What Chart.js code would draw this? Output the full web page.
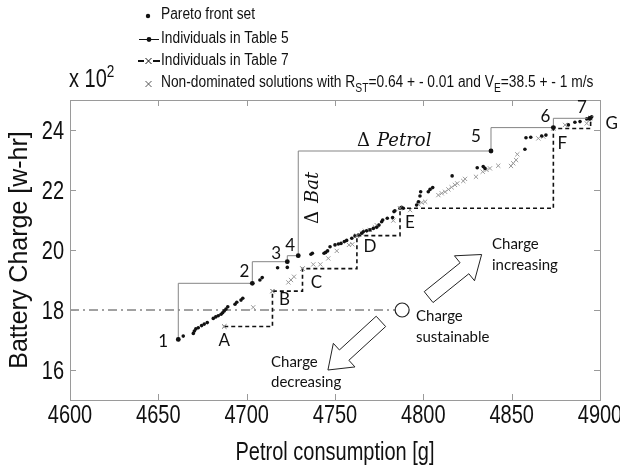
<!DOCTYPE html>
<html>
<head>
<meta charset="utf-8">
<script src="https://cdn.jsdelivr.net/npm/chart.js@4/dist/chart.umd.min.js"></script>
<style>
  html, body { margin: 0; padding: 0; background: #fff; }
  #wrap { position: relative; width: 620px; height: 469px; }
</style>
</head>
<body>
<div id="wrap"><canvas id="chart" width="620" height="469"></canvas></div>
<script>
// Pareto front set (petrol g, battery charge w-hr)
var paretoPetrol = [4661.3, 4664.1, 4669.8, 4670.4, 4671.2, 4672.6, 4674.5, 4676.0, 4677.7, 4681.1, 4682.5, 4683.9,
    4685.5, 4686.4, 4687.3, 4688.3, 4689.3, 4693.4, 4694.4, 4696.8, 4697.8, 4703.2, 4707.5, 4708.8, 4717.5, 4723.0,
    4723.0, 4729.2, 4736.4, 4737.2, 4743.8, 4744.7, 4745.8, 4747.2, 4750.0, 4751.9, 4753.4, 4755.3, 4756.6, 4759.5,
    4761.3, 4763.2, 4765.1, 4766.0, 4767.9, 4769.8, 4771.7, 4773.6, 4774.9, 4776.4, 4777.0, 4779.6, 4782.6, 4783.4,
    4783.9, 4786.8, 4787.7, 4788.7, 4796.2, 4797.2, 4798.1, 4798.5, 4802.8, 4803.8, 4805.3, 4816.3, 4830.5, 4833.9,
    4834.9, 4838.3, 4857.5, 4858.1, 4860.8, 4867.0, 4869.4, 4873.6, 4882.1, 4885.8, 4888.7, 4892.5, 4894.3, 4895.3];
var paretoCharge = [1702, 1713, 1722, 1730, 1737, 1741, 1748, 1753, 1758, 1772, 1777, 1781,
    1786, 1791, 1797, 1803, 1811, 1819, 1826, 1833, 1839, 1889, 1900, 1908, 1941, 1942,
    1961, 1981, 1986, 1989, 1989, 1992, 1997, 2011, 2017, 2020, 2022, 2028, 2032, 2039,
    2047, 2050, 2056, 2061, 2064, 2067, 2072, 2076, 2083, 2094, 2100, 2106, 2108, 2128,
    2131, 2139, 2142, 2139, 2150, 2161, 2180, 2194, 2194, 2202, 2208, 2247, 2274, 2278,
    2272, 2330, 2336, 2374, 2376, 2380, 2383, 2408, 2417, 2426, 2428, 2437, 2441, 2444];

// Non-dominated solutions with R_ST=0.64 +- 0.01 and V_E=38.5 +- 1 m/s
var ndPetrol = [4687.3, 4703.7, 4714.6, 4723.6, 4725.1, 4726.8, 4731.6, 4737.7, 4741.7, 4746.2, 4751.0, 4757.9,
    4759.8, 4762.3, 4765.1, 4767.0, 4769.8, 4772.6, 4773.6, 4783.0, 4792.5, 4797.2, 4799.1, 4801.0, 4808.5,
    4810.4, 4812.3, 4814.2, 4816.0, 4817.9, 4819.2, 4822.6, 4823.6, 4829.8, 4833.6, 4835.8, 4837.7, 4842.4,
    4849.6, 4850.9, 4852.5, 4853.2, 4865.1, 4867.9, 4880.2, 4892.5, 4894.0];
var ndCharge = [1745, 1809, 1863, 1892, 1900, 1911, 1938, 1952, 1952, 1972, 1997, 2017,
    2019, 2047, 2056, 2064, 2067, 2076, 2083, 2098, 2133, 2152, 2158, 2161, 2183,
    2189, 2194, 2202, 2209, 2217, 2222, 2230, 2237, 2244, 2261, 2267, 2272, 2281,
    2280, 2289, 2300, 2319, 2372, 2378, 2417, 2422, 2433];

// Individuals in Table 5 (1..7) and Table 7 (A..G)
var table5Labels = ["1", "2", "3", "4", "5", "6", "7"];
var table5Petrol = [4661.3, 4703.2, 4723.0, 4729.2, 4838.3, 4873.6, 4894.3];
var table5Charge = [1702, 1889, 1961, 1981, 2330, 2408, 2439];
var table7Labels = ["A", "B", "C", "D", "E", "F", "G"];
var table7Petrol = [4687.3, 4714.6, 4731.6, 4762.4, 4786.8, 4873.6, 4894.7];
var table7Charge = [1745, 1863, 1938, 2048, 2139, 2405, 2440];

// charge sustaining reference
var sustainPetrol = [4600, 4788];
var sustainCharge = [1800, 1800];

var xTicks = [4600, 4650, 4700, 4750, 4800, 4850, 4900];
var yTicks = [1600, 1800, 2000, 2200, 2400];

var SANS = '"Liberation Sans", Arial, sans-serif';
var NOTE = 'Lato, "Open Sans", sans-serif';
var K = 0.8; // horizontal squeeze, gives the Arial Narrow look of the original

function pts(xs, ys) {
    return xs.map(function (x, i) { return { x: x, y: ys[i] }; });
}

// label offsets (px) from their point
var t5Off = [[-15, 2], [-8, -12], [-11, -8], [-8, -10], [-15, -14], [-8, -11], [-8, -11]];
var t7Off = [[0, 14], [12, 8], [14, 14], [13, 11], [10, 14], [9, 15], [21, 6]];

function blockArrow(ctx, x0, y0, x1, y1, shaftW, headW, headL) {
    var dx = x1 - x0, dy = y1 - y0, len = Math.sqrt(dx * dx + dy * dy);
    var ux = dx / len, uy = dy / len, nx = -uy, ny = ux;
    var bx = x1 - ux * headL, by = y1 - uy * headL;
    ctx.beginPath();
    ctx.moveTo(x0 + nx * shaftW / 2, y0 + ny * shaftW / 2);
    ctx.lineTo(bx + nx * shaftW / 2, by + ny * shaftW / 2);
    ctx.lineTo(bx + nx * headW / 2, by + ny * headW / 2);
    ctx.lineTo(x1, y1);
    ctx.lineTo(bx - nx * headW / 2, by - ny * headW / 2);
    ctx.lineTo(bx - nx * shaftW / 2, by - ny * shaftW / 2);
    ctx.lineTo(x0 - nx * shaftW / 2, y0 - ny * shaftW / 2);
    ctx.closePath();
    ctx.fillStyle = "#fff";
    ctx.fill();
    ctx.strokeStyle = "#222";
    ctx.lineWidth = 1;
    ctx.stroke();
}

function drawX(ctx, x, y, r, color) {
    ctx.save();
    ctx.strokeStyle = color;
    ctx.lineWidth = 1;
    ctx.beginPath();
    ctx.moveTo(x - r, y - r); ctx.lineTo(x + r, y + r);
    ctx.moveTo(x - r, y + r); ctx.lineTo(x + r, y - r);
    ctx.stroke();
    ctx.restore();
}

// draw a run of [text, sizePx, dy] pieces, squeezed horizontally by k
function narrowText(ctx, pieces, x, y, k, align) {
    ctx.save();
    var w = 0;
    pieces.forEach(function (p) { ctx.font = p[1] + "px " + SANS; w += ctx.measureText(p[0]).width; });
    var sx = x;
    if (align === "center") sx = x - w * k / 2;
    if (align === "right") sx = x - w * k;
    ctx.translate(sx, y);
    ctx.scale(k, 1);
    ctx.textAlign = "left";
    var cx = 0;
    pieces.forEach(function (p) {
        ctx.font = p[1] + "px " + SANS;
        ctx.fillText(p[0], cx, p[2] || 0);
        cx += ctx.measureText(p[0]).width;
    });
    ctx.restore();
}

var decor = {
    id: "decor",
    beforeDatasetsDraw: function (chart) {
        var ctx = chart.ctx, xs = chart.scales.x, ys = chart.scales.y;
        // block arrows
        blockArrow(ctx, xs.getPixelForValue(4803), ys.getPixelForValue(1843),
            xs.getPixelForValue(4833), ys.getPixelForValue(1985), 14, 32, 22);
        blockArrow(ctx, xs.getPixelForValue(4776), ys.getPixelForValue(1762),
            xs.getPixelForValue(4746), ys.getPixelForValue(1600), 14, 32, 22);
    },
    afterDatasetsDraw: function (chart) {
        var ctx = chart.ctx, a = chart.chartArea, xs = chart.scales.x, ys = chart.scales.y;
        ctx.save();
        // box with inward ticks
        ctx.strokeStyle = "#9a9a9a";
        ctx.lineWidth = 1;
        ctx.strokeRect(a.left + 0.5, a.top + 0.5, a.right - a.left, a.bottom - a.top);
        ctx.beginPath();
        xTicks.forEach(function (v) {
            var px = Math.round(xs.getPixelForValue(v)) + 0.5;
            ctx.moveTo(px, a.bottom); ctx.lineTo(px, a.bottom - 6);
            ctx.moveTo(px, a.top); ctx.lineTo(px, a.top + 6);
        });
        yTicks.forEach(function (v) {
            var py = Math.round(ys.getPixelForValue(v)) + 0.5;
            ctx.moveTo(a.left, py); ctx.lineTo(a.left + 6, py);
            ctx.moveTo(a.right, py); ctx.lineTo(a.right - 6, py);
        });
        ctx.stroke();

        // point labels
        ctx.fillStyle = "#111";
        ctx.font = "17px " + NOTE;
        ctx.textAlign = "center";
        ctx.textBaseline = "middle";
        table5Labels.forEach(function (t, i) {
            ctx.fillText(t, xs.getPixelForValue(table5Petrol[i]) + t5Off[i][0], ys.getPixelForValue(table5Charge[i]) + t5Off[i][1]);
        });
        table7Labels.forEach(function (t, i) {
            ctx.fillText(t, xs.getPixelForValue(table7Petrol[i]) + t7Off[i][0], ys.getPixelForValue(table7Charge[i]) + t7Off[i][1]);
        });

        // notes
        ctx.font = "15px " + NOTE;
        ctx.textAlign = "left";
        ctx.fillText("Charge", 492, 244);
        ctx.fillText("increasing", 492, 265);
        ctx.fillText("Charge", 416, 316);
        ctx.fillText("sustainable", 416, 337);
        ctx.fillText("Charge", 271, 362);
        ctx.fillText("decreasing", 271, 382);

        // delta labels
        ctx.textAlign = "left";
        ctx.font = '18px "DejaVu Serif", serif';
        ctx.fillText("\u0394", 357, 141);
        ctx.font = 'italic 18px "DejaVu Serif", serif';
        ctx.fillText("Petrol", 377, 141);
        ctx.save();
        ctx.translate(313, 224);
        ctx.rotate(-Math.PI / 2);
        ctx.font = '18px "DejaVu Serif", serif';
        ctx.fillText("\u0394", 0, 0);
        ctx.font = 'italic 18px "DejaVu Serif", serif';
        ctx.fillText("Bat", 21, 0);
        ctx.restore();
        ctx.restore();
    },
    afterDraw: function (chart) {
        var ctx = chart.ctx, a = chart.chartArea, xs = chart.scales.x, ys = chart.scales.y;
        ctx.save();
        ctx.fillStyle = "#111";
        ctx.textBaseline = "alphabetic";

        // tick labels (narrow) placed by the scales
        xTicks.forEach(function (v) {
            narrowText(ctx, [[String(v), 25]], xs.getPixelForValue(v), a.bottom + 23, K, "center");
        });
        yTicks.forEach(function (v) {
            narrowText(ctx, [[String(v / 100), 25]], a.left - 6, ys.getPixelForValue(v) + 9, K, "right");
        });
        narrowText(ctx, [["Petrol consumption [g]", 25]], (a.left + a.right) / 2, 460, K, "center");

        // x 10^2
        narrowText(ctx, [["x 10", 25, 0], ["2", 17, -10]], 69, 87, K);

        // legend
        var lx = 161, k2 = 0.86;
        ctx.textBaseline = "middle";
        ctx.beginPath(); ctx.arc(148, 16, 2.2, 0, Math.PI * 2); ctx.fill();
        narrowText(ctx, [["Pareto front set", 16]], lx, 15, k2);

        ctx.strokeStyle = "#111"; ctx.lineWidth = 1;
        ctx.beginPath(); ctx.moveTo(139, 39.5); ctx.lineTo(159, 39.5); ctx.stroke();
        ctx.beginPath(); ctx.arc(149, 39.5, 2.4, 0, Math.PI * 2); ctx.fill();
        narrowText(ctx, [["Individuals in Table 5", 16]], lx, 39, k2);

        ctx.lineWidth = 2;
        ctx.beginPath(); ctx.moveTo(138, 61); ctx.lineTo(144, 61); ctx.moveTo(153, 61); ctx.lineTo(160, 61); ctx.stroke();
        drawX(ctx, 148.5, 61, 3, "#111");
        narrowText(ctx, [["Individuals in Table 7", 16]], lx, 61, k2);

        drawX(ctx, 148.5, 84, 3, "#555");
        narrowText(ctx, [["Non-dominated solutions with R", 16], ["ST", 12, 6], ["=0.64 + - 0.01 and V", 16],
            ["E", 12, 6], ["=38.5 + - 1 m/s", 16]], lx, 83, k2);
        ctx.restore();
    }
};

function init() {
    var canvas = document.getElementById("chart");
    new Chart(canvas, {
        type: "scatter",
        data: {
            datasets: [
                {
                    label: "Individuals in Table 5",
                    data: pts(table5Petrol, table5Charge),
                    showLine: true,
                    stepped: "after",
                    borderColor: "#858585",
                    borderWidth: 1,
                    pointRadius: 2.4,
                    pointBackgroundColor: "#111",
                    pointBorderColor: "#111",
                    pointBorderWidth: 0
                },
                {
                    label: "Individuals in Table 7",
                    data: pts(table7Petrol, table7Charge),
                    showLine: true,
                    stepped: "before",
                    borderColor: "#111",
                    borderWidth: 1.6,
                    borderDash: [4, 3],
                    pointStyle: "crossRot",
                    pointRadius: 3,
                    pointBorderColor: "#8a8a8a",
                    pointBorderWidth: 1
                },
                {
                    label: "Pareto front set",
                    data: pts(paretoPetrol, paretoCharge),
                    showLine: false,
                    pointRadius: 1.8,
                    pointBackgroundColor: "#111",
                    pointBorderWidth: 0
                },
                {
                    label: "Non-dominated",
                    data: pts(ndPetrol, ndCharge),
                    showLine: false,
                    pointStyle: "crossRot",
                    pointRadius: 3,
                    pointBorderColor: "#9a9a9a",
                    pointBorderWidth: 1
                },
                {
                    label: "Charge sustainable",
                    data: pts(sustainPetrol, sustainCharge),
                    showLine: true,
                    borderColor: "#444",
                    borderWidth: 1,
                    borderDash: [9, 4, 2, 4],
                    pointRadius: [0, 7],
                    pointBackgroundColor: "#fff",
                    pointBorderColor: "#222",
                    pointBorderWidth: 1.2
                }
            ]
        },
        options: {
            responsive: false,
            animation: false,
            layout: { padding: { top: 100, right: 20, left: 0, bottom: 0 } },
            plugins: { legend: { display: false }, tooltip: { enabled: false } },
            scales: {
                x: {
                    type: "linear",
                    min: 4600,
                    max: 4900,
                    afterBuildTicks: function (s) { s.ticks = xTicks.map(function (v) { return { value: v }; }); },
                    afterFit: function (s) { s.height = 69; s.paddingLeft = 0; s.paddingRight = 0; },
                    grid: { display: false, drawTicks: false },
                    border: { display: false },
                    ticks: { display: false }
                },
                y: {
                    type: "linear",
                    min: 1500,
                    max: 2500,
                    afterBuildTicks: function (s) { s.ticks = yTicks.map(function (v) { return { value: v }; }); },
                    afterFit: function (s) { s.width = 70; s.paddingTop = 0; s.paddingBottom = 0; },
                    grid: { display: false, drawTicks: false },
                    border: { display: false },
                    ticks: { display: false },
                    title: { display: true, text: "Battery Charge [w-hr]", color: "#111", font: { family: SANS, size: 25 }, padding: { top: 5, bottom: 0 } }
                }
            }
        },
        plugins: [decor]
    });
}

if (document.readyState === "loading") {
    document.addEventListener("DOMContentLoaded", init);
} else {
    init();
}
</script>
</body>
</html>
